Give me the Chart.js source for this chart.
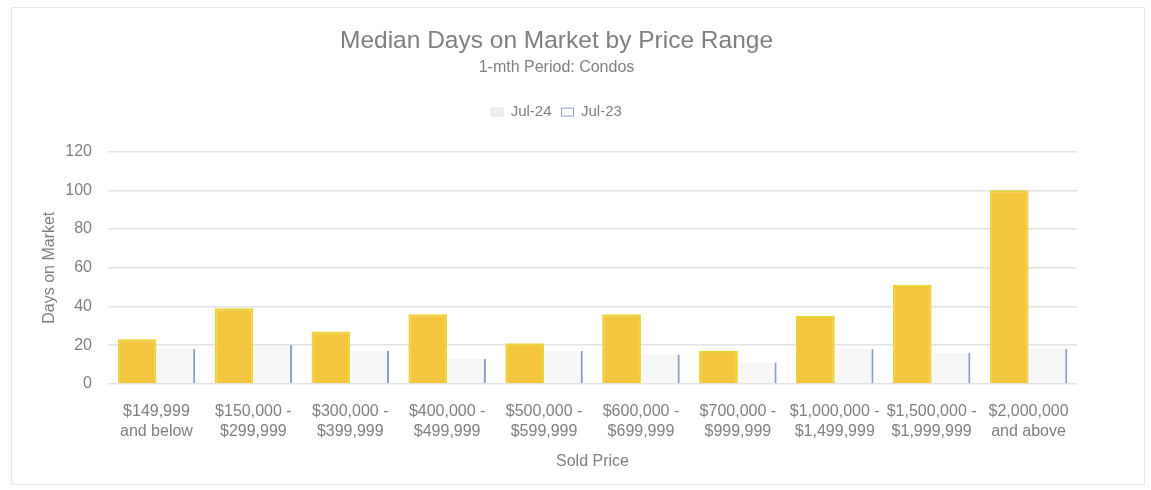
<!DOCTYPE html>
<html>
<head>
<meta charset="utf-8">
<script src="https://cdn.jsdelivr.net/npm/chart.js@4"></script>
<style>
html, body { margin: 0; padding: 0; background: #fff; }
#wrap { position: absolute; left: 11px; top: 7px; width: 1132px; height: 476px; border: 1px solid #e8e8e8; }
#box { position: absolute; left: 0; top: 0; width: 1151px; height: 490px; }
</style>
</head>
<body>
<div id="wrap"></div>
<div id="box"><canvas id="chart1"></canvas></div>
<script>
var categories = [
  ["$149,999", "and below"],
  ["$150,000 -", "$299,999"],
  ["$300,000 -", "$399,999"],
  ["$400,000 -", "$499,999"],
  ["$500,000 -", "$599,999"],
  ["$600,000 -", "$699,999"],
  ["$700,000 -", "$999,999"],
  ["$1,000,000 -", "$1,499,999"],
  ["$1,500,000 -", "$1,999,999"],
  ["$2,000,000", "and above"]
];
var jul24 = [23, 39, 27, 36, 21, 36, 17, 35, 51, 100];
var jul23 = [18, 20, 17, 13, 17, 15, 11, 18, 16, 18];
var yTicks = [0, 20, 40, 60, 80, 100, 120];

var grey = "#7f7f7f";
var fontName = "'Liberation Sans', Arial, sans-serif";

// extra room under the legend
var legendMargin = {
    id: 'legendMargin',
    beforeInit: function(chart) {
        var fit = chart.legend.fit;
        chart.legend.fit = function() {
            fit.bind(chart.legend)();
            this.height += 22;
        };
    }
};

var ctx = document.getElementById("chart1").getContext("2d");
var chart1 = new Chart(ctx, {
    type: 'bar',
    data: {
        labels: categories,
        datasets: [{
            label: "Jul-24",
            data: jul24,
            backgroundColor: "rgb(243,198,62)",
            borderColor: "rgb(232,212,52)",
            borderWidth: 2,
            borderSkipped: 'bottom'
        }, {
            label: "Jul-23",
            data: jul23,
            backgroundColor: "rgba(238,238,238,0.45)",
            borderColor: "#8b9dc3",
            borderWidth: { top: 0, right: 2, bottom: 0, left: 0 },
            borderSkipped: false
        }]
    },
    plugins: [legendMargin],
    options: {
        responsive: true,
        maintainAspectRatio: false,
        animation: false,
        layout: { padding: { top: 27, left: 36, right: 74, bottom: 15 } },
        datasets: { bar: { categoryPercentage: 0.8, barPercentage: 1.0 } },
        plugins: {
            title: {
                display: true,
                text: "Median Days on Market by Price Range",
                color: grey,
                font: { family: fontName, size: 24.5, weight: 'normal' },
                padding: { top: 0, bottom: 2 }
            },
            subtitle: {
                display: true,
                text: "1-mth Period: Condos",
                color: grey,
                font: { family: fontName, size: 16, weight: 'normal' },
                padding: { top: 0, bottom: 17 }
            },
            legend: {
                display: true,
                labels: {
                    color: grey,
                    font: { family: fontName, size: 15 },
                    boxWidth: 12,
                    boxHeight: 8,
                    padding: 10,
                    generateLabels: function(chart) {
                        return [{
                            text: "Jul-24", fillStyle: "#eeeeee", strokeStyle: "#e4e4e4",
                            lineWidth: 1, datasetIndex: 0, fontColor: grey
                        }, {
                            text: "Jul-23", fillStyle: "#ffffff", strokeStyle: "#8b9dc3",
                            lineWidth: 1, datasetIndex: 1, fontColor: grey
                        }];
                    }
                }
            },
            tooltip: { enabled: false }
        },
        scales: {
            x: {
                grid: { display: false },
                border: { display: false },
                ticks: {
                    color: grey,
                    font: { family: fontName, size: 16, lineHeight: 1.25 },
                    maxRotation: 0,
                    autoSkip: false,
                    padding: 10
                },
                title: {
                    display: true,
                    text: "Sold Price",
                    color: grey,
                    font: { family: fontName, size: 16 },
                    padding: { top: 0 }
                }
            },
            y: {
                min: 0,
                max: 120,
                afterBuildTicks: function(axis) {
                    axis.ticks = yTicks.map(function(v) { return { value: v }; });
                },
                afterFit: function(axis) {
                    axis.width = 72;
                },
                grid: { color: "#e2e2e2", lineWidth: 1.5, drawTicks: false },
                border: { display: false },
                ticks: {
                    color: grey,
                    font: { family: fontName, size: 16 },
                    padding: 16
                },
                title: {
                    display: true,
                    text: "Days on Market",
                    color: grey,
                    font: { family: fontName, size: 16 },
                    padding: { bottom: 0 }
                }
            }
        }
    }
});
</script>
</body>
</html>
